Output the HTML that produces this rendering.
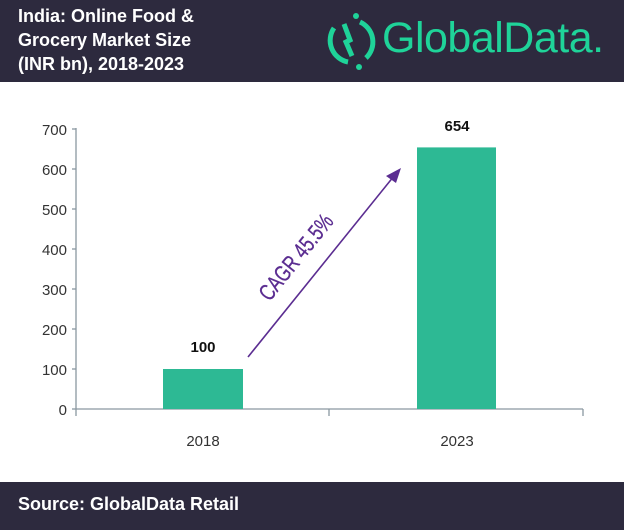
<!DOCTYPE html>
<html><head><meta charset="utf-8"><style>
body{margin:0;width:624px;height:530px;background:#fff;font-family:"Liberation Sans",sans-serif;overflow:hidden;position:relative}
.hdr{position:absolute;left:0;top:0;width:624px;height:82px;background:#2d2a3e}
.ftr{position:absolute;left:0;top:482px;width:624px;height:48px;background:#2d2a3e}
</style></head><body>
<div class="hdr">
<div style="position:absolute;left:18px;top:4px;color:#fff;font-weight:bold;font-size:18px;line-height:24px">India: Online Food &amp;<br>Grocery Market Size<br>(INR bn), 2018-2023</div>
<svg style="position:absolute;left:320px;top:10px" width="80" height="62">
<path d="M14 18 A22 22 0 0 0 28 52" fill="none" stroke="#1fd399" stroke-width="5"/>
<path d="M40 12 A22 22 0 0 1 46 48" fill="none" stroke="#1fd399" stroke-width="5"/>
<path d="M24 14 L30 30 L26 32 L32 46" fill="none" stroke="#1fd399" stroke-width="5"/>
<circle cx="36" cy="6" r="3" fill="#1fd399"/><circle cx="39" cy="57" r="3" fill="#1fd399"/>
</svg>
<div style="position:absolute;left:382px;top:13px;color:#1fd399;font-size:43px;line-height:50px;letter-spacing:-0.5px">GlobalData.</div>
</div>
<svg style="position:absolute;left:0;top:0" width="624" height="482">
<g stroke="#8a97a0" stroke-width="1.3" fill="none">
<line x1="76" y1="128" x2="76" y2="416"/>
<line x1="76" y1="409" x2="583" y2="409"/>
<line x1="329" y1="409" x2="329" y2="416"/><line x1="583" y1="409" x2="583" y2="416"/>
<line x1="72" y1="129" x2="76" y2="129"/><line x1="72" y1="169" x2="76" y2="169"/><line x1="72" y1="209" x2="76" y2="209"/><line x1="72" y1="249" x2="76" y2="249"/><line x1="72" y1="289" x2="76" y2="289"/><line x1="72" y1="329" x2="76" y2="329"/><line x1="72" y1="369" x2="76" y2="369"/><line x1="72" y1="409" x2="76" y2="409"/>
</g>
<g font-size="15" fill="#333" text-anchor="end">
<text x="67" y="135">700</text><text x="67" y="175">600</text><text x="67" y="215">500</text><text x="67" y="255">400</text><text x="67" y="295">300</text><text x="67" y="335">200</text><text x="67" y="375">100</text><text x="67" y="415">0</text>
</g>
<rect x="163" y="369" width="80" height="40" fill="#2db994"/>
<rect x="417" y="147.4" width="79" height="261.6" fill="#2db994"/>
<g font-size="15" font-weight="bold" fill="#111" text-anchor="middle"><text x="203" y="352">100</text><text x="457" y="131">654</text></g>
<g font-size="15" fill="#333" text-anchor="middle"><text x="203" y="446">2018</text><text x="457" y="446">2023</text></g>
<line x1="248" y1="357" x2="394" y2="176" stroke="#5b2d91" stroke-width="1.6"/>
<polygon points="401,168 386,176 396,183" fill="#5b2d91"/>
<text transform="translate(302,262) rotate(-51) scale(0.75,1)" font-size="23" fill="#5b2d91" stroke="#5b2d91" stroke-width="0.3" text-anchor="middle">CAGR 45.5%</text>
</svg>
<div class="ftr"><div style="position:absolute;left:18px;top:12px;color:#fff;font-weight:bold;font-size:18px">Source: GlobalData Retail</div></div>
</body></html>
